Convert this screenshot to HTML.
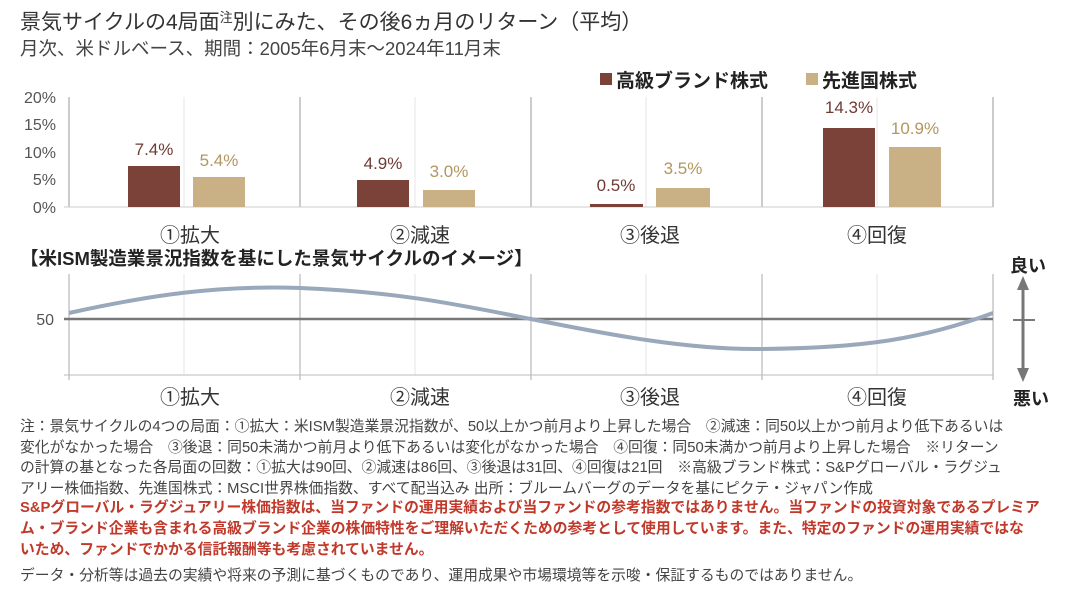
<!DOCTYPE html>
<html><head><meta charset="utf-8"><style>
body{margin:0;width:1085px;height:590px;background:#fff;font-family:"Liberation Sans","Noto Sans CJK JP",sans-serif;position:relative;overflow:hidden;color:#333}
.t{position:absolute;white-space:nowrap}
</style></head><body>
<div class="t" style="left:20px;top:6px;font-size:21px;color:#333">景気サイクルの4局面<span style="font-size:13px;vertical-align:7px">注</span>別にみた、その後6ヵ月のリターン（平均）</div>
<div class="t" style="left:20px;top:35px;font-size:18.5px;color:#444">月次、米ドルベース、期間：2005年6月末～2024年11月末</div>
<svg width="1085" height="420" style="position:absolute;left:0;top:0" font-family="Liberation Sans, Noto Sans CJK JP, sans-serif">
<rect x="600" y="73" width="12" height="12" fill="#7b4239"/>
<text x="616" y="87" font-size="19" fill="#222" font-weight="bold">高級ブランド株式</text>
<rect x="806" y="73" width="12" height="12" fill="#c9b185"/>
<text x="822" y="87" font-size="19" fill="#222" font-weight="bold">先進国株式</text>
<g stroke="#e6e6e6"><line x1="184" y1="97" x2="184" y2="207"/><line x1="415" y1="97" x2="415" y2="207"/><line x1="646" y1="97" x2="646" y2="207"/><line x1="877" y1="97" x2="877" y2="207"/></g>
<g stroke="#999"><line x1="69" y1="97" x2="69" y2="207"/><line x1="300" y1="97" x2="300" y2="207"/><line x1="531" y1="97" x2="531" y2="207"/><line x1="762" y1="97" x2="762" y2="207"/><line x1="993" y1="97" x2="993" y2="207"/></g>
<line x1="64" y1="207" x2="993" y2="207" stroke="#ccc"/>
<g font-size="16" fill="#555" text-anchor="end"><text x="56" y="103">20%</text><text x="56" y="130">15%</text><text x="56" y="158">10%</text><text x="56" y="185">5%</text><text x="56" y="213">0%</text></g>
<g fill="#7b4239"><rect x="128" y="166" width="52" height="41"/><rect x="357" y="180" width="52" height="27"/><rect x="590" y="204" width="53" height="3"/><rect x="823" y="128" width="52" height="79"/></g>
<g fill="#c9b185"><rect x="193" y="177" width="52" height="30"/><rect x="423" y="190" width="52" height="17"/><rect x="656" y="188" width="54" height="19"/><rect x="889" y="147" width="52" height="60"/></g>
<g font-size="17" fill="#6e3b33" text-anchor="middle"><text x="154" y="155">7.4%</text><text x="383" y="169">4.9%</text><text x="616" y="191">0.5%</text><text x="849" y="113">14.3%</text></g>
<g font-size="17" fill="#b3965f" text-anchor="middle"><text x="219" y="166">5.4%</text><text x="449" y="177">3.0%</text><text x="683" y="174">3.5%</text><text x="915" y="134">10.9%</text></g>
<g font-size="20" fill="#333" text-anchor="middle"><text x="190" y="242">①拡大</text><text x="420" y="242">②減速</text><text x="650" y="242">③後退</text><text x="877" y="242">④回復</text></g>
<text x="20" y="265" font-size="18.5" font-weight="bold" fill="#222">【米ISM製造業景況指数を基にした景気サイクルのイメージ】</text>
<g stroke="#e6e6e6"><line x1="184" y1="274" x2="184" y2="375"/><line x1="415" y1="274" x2="415" y2="375"/><line x1="646" y1="274" x2="646" y2="375"/><line x1="877" y1="274" x2="877" y2="375"/></g>
<g stroke="#aaa"><line x1="69" y1="274" x2="69" y2="380"/><line x1="300" y1="274" x2="300" y2="380"/><line x1="531" y1="274" x2="531" y2="380"/><line x1="762" y1="274" x2="762" y2="380"/><line x1="993" y1="274" x2="993" y2="380"/></g>
<line x1="64" y1="375" x2="993" y2="375" stroke="#bbb"/>
<line x1="64" y1="319" x2="993" y2="319" stroke="#777" stroke-width="2.5"/>
<text x="54" y="325" font-size="16" fill="#555" text-anchor="end">50</text>
<path d="M69,313 C150,295 220,285 300,288 C400,292 460,305 531,319 C610,335 690,350 762,349 C860,348 920,340 993,313" fill="none" stroke="#9aa8bb" stroke-width="4"/>
<g font-size="20" fill="#333" text-anchor="middle"><text x="190" y="404">①拡大</text><text x="420" y="404">②減速</text><text x="650" y="404">③後退</text><text x="877" y="404">④回復</text></g>
<line x1="1023" y1="288" x2="1023" y2="370" stroke="#777" stroke-width="3"/>
<polygon points="1023,276 1017,290 1029,290" fill="#777"/>
<polygon points="1023,382 1017,368 1029,368" fill="#777"/>
<line x1="1013" y1="320" x2="1035" y2="320" stroke="#777" stroke-width="2"/>
<text x="1010" y="272" font-size="18" font-weight="bold" fill="#222">良い</text>
<text x="1013" y="405" font-size="18" font-weight="bold" fill="#222">悪い</text>
</svg>
<div class="t" style="left:20px;top:417px;font-size:14.8px;line-height:20.5px;color:#444;white-space:normal;width:1065px">注：景気サイクルの4つの局面：①拡大：米ISM製造業景況指数が、50以上かつ前月より上昇した場合　②減速：同50以上かつ前月より低下あるいは<br>変化がなかった場合　③後退：同50未満かつ前月より低下あるいは変化がなかった場合　④回復：同50未満かつ前月より上昇した場合　※リターン<br>の計算の基となった各局面の回数：①拡大は90回、②減速は86回、③後退は31回、④回復は21回　※高級ブランド株式：S&amp;Pグローバル・ラグジュ<br>アリー株価指数、先進国株式：MSCI世界株価指数、すべて配当込み 出所：ブルームバーグのデータを基にピクテ・ジャパン作成</div>
<div class="t" style="left:20px;top:498px;font-size:14.8px;line-height:21px;color:#c0392b;font-weight:bold;white-space:normal;width:1065px">S&amp;Pグローバル・ラグジュアリー株価指数は、当ファンドの運用実績および当ファンドの参考指数ではありません。当ファンドの投資対象であるプレミア<br>ム・ブランド企業も含まれる高級ブランド企業の株価特性をご理解いただくための参考として使用しています。また、特定のファンドの運用実績ではな<br>いため、ファンドでかかる信託報酬等も考慮されていません。</div>
<div class="t" style="left:20px;top:564px;font-size:14.8px;color:#444">データ・分析等は過去の実績や将来の予測に基づくものであり、運用成果や市場環境等を示唆・保証するものではありません。</div>
</body></html>
